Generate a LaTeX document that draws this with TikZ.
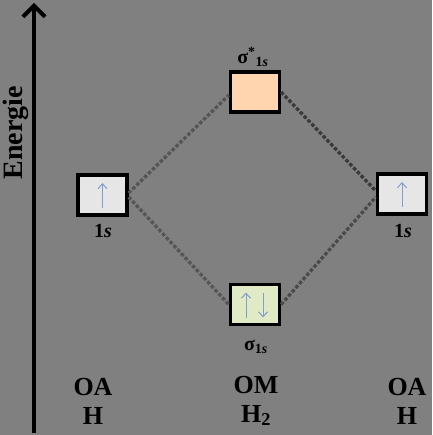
\documentclass[tikz,border=0pt]{standalone}
\usepackage{fontspec}
\setmainfont{Liberation Serif}
\usetikzlibrary{arrows.meta}
\definecolor{bg}{HTML}{808080}
\definecolor{antib}{HTML}{FFD5B0}
\definecolor{bond}{HTML}{E0EBC5}
\definecolor{atom}{HTML}{E6E6E6}
\definecolor{spinc}{HTML}{7F9FCC}
\definecolor{dashA}{HTML}{555555}
\definecolor{dashB}{HTML}{3A3A3A}
\tikzset{
  orb/.style={draw=black, line width=3.2pt, minimum width=49pt, minimum height=40pt, inner sep=0pt},
  spin/.style={draw=spinc, line width=1pt, -{Straight Barb[length=5pt,width=9pt,line width=1pt]}},
  link/.style={line width=3.3pt, dash pattern=on 3.5pt off 2pt},
  lab/.style={font=\bfseries\fontsize{26}{29}\selectfont, align=center, inner sep=0pt},
  small/.style={font=\bfseries\fontsize{20}{22}\selectfont, inner sep=0pt}
}
\begin{document}
\begin{tikzpicture}[x=1pt,y=-1pt]
\fill[bg] (0,0) rectangle (432,435);
\useasboundingbox (0,0) rectangle (432,435);
% axis
\coordinate (ax0) at (34,433);
\coordinate (ax1) at (34,3);
\draw[line width=4pt, -{Straight Barb[length=11pt,width=22pt,line width=4pt]}] (ax0) -- (ax1);
\node[lab, font=\bfseries\fontsize{28}{30}\selectfont, rotate=90] (en) at (16,133) {Energie};
% orbitals
\node[orb, fill=atom] (L) at (102.5,195) {};
\node[orb, fill=atom] (R) at (402,194) {};
\node[orb, fill=antib] (T) at (255,92) {};
\node[orb, fill=bond] (B) at (255,304.5) {};
% connectors
\draw[link, dashA] ([yshift=2]L.east) -- ([yshift=-3]T.west);
\draw[link, dashA] ([yshift=-2]L.east) -- (B.west);
\draw[link, dashB] (T.east) -- ([yshift=3]R.west);
\draw[link, dashA!60!dashB] (B.east) -- ([yshift=-3]R.west);
% spins
\draw[spin] ([yshift=-13]L.center) -- ([yshift=12]L.center);
\draw[spin] ([yshift=-13]R.center) -- ([yshift=12]R.center);
\draw[spin] ([xshift=-9,yshift=-13]B.center) -- ([xshift=-9,yshift=12]B.center);
\draw[spin] ([xshift=8,yshift=12]B.center) -- ([xshift=8,yshift=-13]B.center);
% labels
\node[small] (ls) at (103,231) {1\textit{s}};
\node[small] (rs) at (403,231) {1\textit{s}};
\node[small] (st) at (253,57) {σ\textsuperscript{*}\textsubscript{1\textit{s}}};
\node[small] (sb) at (256,347) {σ\textsubscript{1\textit{s}}};
\node[lab] (oal) at (93,401) {OA\\H};
\node[lab] (om) at (256,401) {OM\\H\textsubscript{2}};
\node[lab] (oar) at (407,401) {OA\\H};
\end{tikzpicture}
\end{document}
